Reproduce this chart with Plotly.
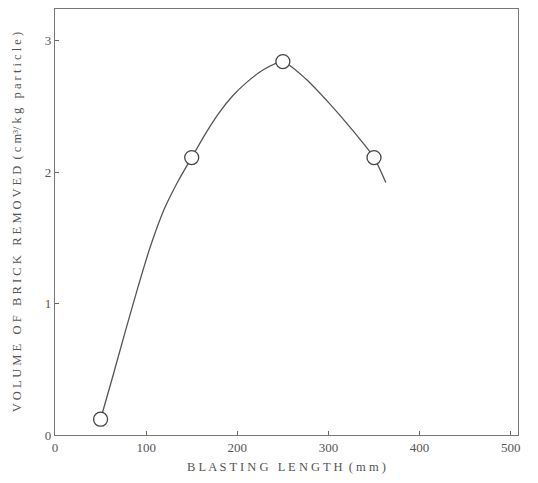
import plotly.graph_objects as go

# measured points
blast_len = [50, 150, 250, 350]
volume = [0.12, 2.11, 2.84, 2.11]

# smooth fitted curve
curve_x = [50, 64, 76, 90, 104, 120, 135, 150, 165, 180, 195, 210, 229, 250,
           275, 300, 325, 350, 363]
curve_y = [0.12, 0.46, 0.76, 1.10, 1.42, 1.72, 1.93, 2.11, 2.29, 2.45, 2.58, 2.68, 2.78, 2.84,
           2.71, 2.53, 2.33, 2.11, 1.92]

x_ticks = [0, 100, 200, 300, 400, 500]
y_ticks = [0, 1, 2, 3]

fig = go.Figure()
fig.add_trace(go.Scatter(x=curve_x, y=curve_y, mode="lines",
                         line=dict(color="#555555", width=1.3, shape="spline", smoothing=0.6),
                         hoverinfo="skip", showlegend=False))
fig.add_trace(go.Scatter(x=blast_len, y=volume, mode="markers",
                         marker=dict(size=14, color="white", line=dict(color="#444444", width=1.3)),
                         showlegend=False))

font_serif = "Liberation Serif, DejaVu Serif, serif"
# the page body adds an 8px margin, so the figure is sized to fit the window
fig.update_layout(
    width=530, height=475,
    margin=dict(l=47, r=20, t=1, b=48),
    paper_bgcolor="white", plot_bgcolor="white",
    font=dict(family=font_serif, color="#444444", size=12),
)
fig.update_xaxes(range=[0, 508], tickvals=x_ticks, ticks="inside", ticklen=4,
                 tickcolor="#666666", showgrid=False, zeroline=False, automargin=False,
                 showline=True, linecolor="#777777", linewidth=1.2, mirror=True,
                 tickfont=dict(size=13, family=font_serif, color="#555555"),
                 title=dict(text="B L A S T I N G   L E N G T H  ( m m )",
                            font=dict(size=12.5, family=font_serif, color="#555555"), standoff=8))
fig.update_yaxes(range=[0, 3.24], tickvals=y_ticks, ticks="inside", ticklen=4,
                 tickcolor="#666666", showgrid=False, zeroline=False, automargin=False,
                 showline=True, linecolor="#777777", linewidth=1.2, mirror=True,
                 tickfont=dict(size=13, family=font_serif, color="#555555"),
                 title=dict(text="V O L U M E   O F   B R I C K   R E M O V E D  ( c m³/ k g   p a r t i c l e )",
                            font=dict(size=12.5, family=font_serif, color="#555555"), standoff=20))
fig.write_html("out.html")
